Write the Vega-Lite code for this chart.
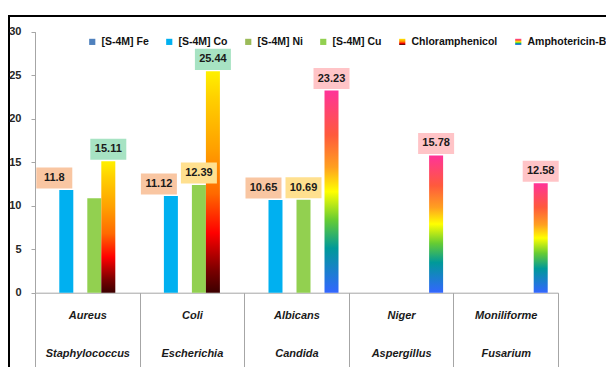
{
  "$schema": "https://vega.github.io/schema/vega-lite/v6.json",
  "width": 607,
  "height": 360,
  "autosize": {"type": "none"},
  "padding": {"left": 9, "top": 16, "right": -10, "bottom": -9},
  "background": "white",
  "config": {
    "font": "Liberation Sans",
    "view": {"stroke": "#000000", "strokeWidth": 2}
  },
  "data": {
    "values": [
      {"organism": "Staphylococcus Aureus", "series": "[S-4M] Co", "value": 11.8, "labeled": true},
      {"organism": "Staphylococcus Aureus", "series": "[S-4M] Cu", "value": 10.85, "labeled": false},
      {"organism": "Staphylococcus Aureus", "series": "Chloramphenicol", "value": 15.11, "labeled": true},
      {"organism": "Escherichia Coli", "series": "[S-4M] Co", "value": 11.12, "labeled": true},
      {"organism": "Escherichia Coli", "series": "[S-4M] Cu", "value": 12.39, "labeled": true},
      {"organism": "Escherichia Coli", "series": "Chloramphenicol", "value": 25.44, "labeled": true},
      {"organism": "Candida Albicans", "series": "[S-4M] Co", "value": 10.65, "labeled": true},
      {"organism": "Candida Albicans", "series": "[S-4M] Cu", "value": 10.69, "labeled": true},
      {"organism": "Candida Albicans", "series": "Amphotericin-B", "value": 23.23, "labeled": true},
      {"organism": "Aspergillus Niger", "series": "Amphotericin-B", "value": 15.78, "labeled": true},
      {"organism": "Fusarium Moniliforme", "series": "Amphotericin-B", "value": 12.58, "labeled": true}
    ]
  },
  "encoding": {
    "x": {
      "field": "organism",
      "type": "nominal",
      "scale": {
        "domain": ["Staphylococcus Aureus", "Escherichia Coli", "Candida Albicans", "Aspergillus Niger", "Fusarium Moniliforme"],
        "range": [26, 549],
        "paddingInner": 0,
        "paddingOuter": 0
      },
      "axis": {
        "orient": "bottom",
        "offset": -83.3,
        "title": null,
        "labelAngle": 0,
        "domainColor": "#A6A6A6",
        "tickColor": "#A6A6A6",
        "tickBand": "extent",
        "tickSize": 80,
        "labelPadding": -63.5,
        "labelExpr": "isValid(datum.value) ? [split(datum.value, ' ')[1], split(datum.value, ' ')[0]] : ''",
        "labelFont": "Liberation Sans",
        "labelFontStyle": "italic",
        "labelFontWeight": "bold",
        "labelFontSize": 11,
        "labelLineHeight": 38.5,
        "labelColor": "#1a1a1a"
      }
    },
    "xOffset": {
      "field": "series",
      "type": "nominal",
      "scale": {
        "domain": ["[S-4M] Fe", "[S-4M] Co", "[S-4M] Ni", "[S-4M] Cu", "Chloramphenicol", "Amphotericin-B"],
        "paddingInner": 0,
        "paddingOuter": 0.735
      }
    },
    "y": {
      "field": "value",
      "type": "quantitative",
      "scale": {"domain": [0, 30], "range": [276.7, 15.7], "nice": false},
      "axis": {
        "orient": "left",
        "offset": -26,
        "title": null,
        "grid": false,
        "values": [0, 5, 10, 15, 20, 25, 30],
        "domainColor": "#A6A6A6",
        "tickColor": "#A6A6A6",
        "tickSize": 4,
        "labelPadding": 10,
        "labelFontSize": 11,
        "labelFontWeight": "bold",
        "labelColor": "#262626"
      }
    }
  },
  "layer": [
    {
      "mark": {"type": "bar", "strokeWidth": 0},
      "encoding": {
        "color": {
          "field": "series",
          "type": "nominal",
          "scale": {
            "domain": ["[S-4M] Fe", "[S-4M] Co", "[S-4M] Ni", "[S-4M] Cu", "Chloramphenicol", "Amphotericin-B"],
            "range": [
              "#4F81BD",
              "#00B0F0",
              "#9BBB59",
              "#92D050",
              {"expr": "{gradient: 'linear', x1: 0, y1: 1, x2: 0, y2: 0, stops: [{offset: 0, color: '#3c0000'}, {offset: 0.1, color: '#7a0000'}, {offset: 0.27, color: '#ff0000'}, {offset: 0.45, color: '#ff6a00'}, {offset: 0.65, color: '#ffa000'}, {offset: 0.88, color: '#ffd000'}, {offset: 1, color: '#fff000'}]}"},
              {"expr": "{gradient: 'linear', x1: 0, y1: 1, x2: 0, y2: 0, stops: [{offset: 0, color: '#3366ff'}, {offset: 0.22, color: '#009999'}, {offset: 0.36, color: '#66cc33'}, {offset: 0.5, color: '#ffff00'}, {offset: 0.62, color: '#ffa020'}, {offset: 0.78, color: '#ff5a3c'}, {offset: 1, color: '#ff3399'}]}"}
            ]
          },
          "legend": {
            "title": null,
            "orient": "none",
            "legendX": 78,
            "legendY": 20.5,
            "direction": "horizontal",
            "columns": 6,
            "columnPadding": 15,
            "padding": 0,
            "symbolType": "square",
            "symbolSize": 38,
            "symbolStrokeWidth": 0,
            "labelOffset": 4,
            "labelFont": "Liberation Sans",
            "labelFontSize": 10.5,
            "labelFontWeight": "bold",
            "labelColor": "#111111"
          }
        }
      }
    },
    {
      "transform": [{"filter": "datum.labeled"}],
      "mark": {"type": "point", "filled": true, "opacity": 1, "size": 1296, "strokeWidth": 0},
      "encoding": {
        "shape": {
          "field": "series",
          "type": "nominal",
          "scale": {
            "domain": ["[S-4M] Co", "[S-4M] Cu", "Chloramphenicol", "Amphotericin-B"],
            "range": [
              "M-1.667,-1.25L0.333,-1.25L0.333,-0.083L-1.667,-0.083Z",
              "M-1,-1.25L1,-1.25L1,-0.083L-1,-0.083Z",
              "M-1,-1.25L1,-1.25L1,-0.083L-1,-0.083Z",
              "M-1,-1.25L1,-1.25L1,-0.083L-1,-0.083Z"
            ]
          },
          "legend": null
        },
        "fill": {
          "field": "series",
          "type": "nominal",
          "scale": {
            "domain": ["[S-4M] Co", "[S-4M] Cu", "Chloramphenicol", "Amphotericin-B"],
            "range": ["#F9C6A2", "#FFE08F", "#A7E3C3", "#FFC4C7"]
          },
          "legend": null
        }
      }
    },
    {
      "transform": [{"filter": "datum.labeled && datum.series === '[S-4M] Co'"}],
      "mark": {"type": "text", "dy": -12, "dx": -12, "baseline": "middle", "align": "center", "font": "Liberation Sans", "fontSize": 11, "fontWeight": "bold", "color": "#1a1a1a"},
      "encoding": {"text": {"field": "value", "type": "quantitative"}}
    },
    {
      "transform": [{"filter": "datum.labeled && datum.series !== '[S-4M] Co'"}],
      "mark": {"type": "text", "dy": -12, "baseline": "middle", "align": "center", "font": "Liberation Sans", "fontSize": 11, "fontWeight": "bold", "color": "#1a1a1a"},
      "encoding": {"text": {"field": "value", "type": "quantitative"}}
    }
  ]
}
